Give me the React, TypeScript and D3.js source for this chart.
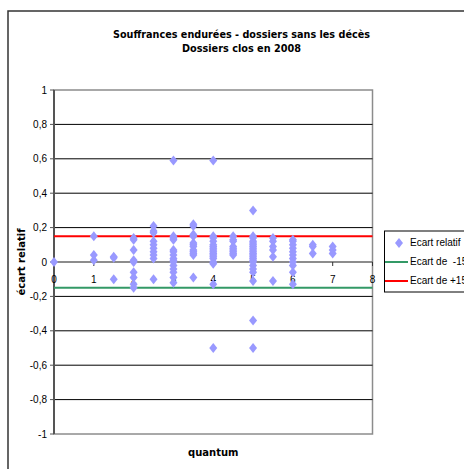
import React from "react";
import * as d3 from "d3";

const title1 = "Souffrances endurées - dossiers sans les décès";
const title2 = "Dossiers clos en 2008";
const xLabel = "quantum";
const yLabel = "écart relatif";
const legendLabels = ["Ecart relatif", "Ecart de  -15%", "Ecart de +15%"];

const yTicks = [1, 0.8, 0.6, 0.4, 0.2, 0, -0.2, -0.4, -0.6, -0.8, -1];
const xTicks = [0, 1, 2, 3, 4, 5, 6, 7, 8];
const lowerBound = -0.15;
const upperBound = 0.15;

// quantum columns and their relative deviations
const quantums = [0, 1, 1.5, 2, 2.5, 3, 3.5, 4, 4.5, 5, 5.5, 6, 6.5, 7];
const ecarts: number[][] = [
  [0],
  [0.15, 0.04, 0.01],
  [0.03, 0.025, -0.1],
  [0.14, 0.13, 0.07, 0.01, 0.0, -0.06, -0.09, -0.13, -0.15],
  [0.21, 0.18, 0.17, 0.12, 0.1, 0.08, 0.06, 0.04, 0.02, -0.1],
  [0.59, 0.15, 0.14, 0.13, 0.07, 0.06, 0.04, 0.02, 0.01, 0.0, -0.02, -0.04, -0.06, -0.09, -0.12],
  [0.22, 0.21, 0.16, 0.15, 0.11, 0.1, 0.09, 0.07, 0.06, 0.05, 0.04, -0.09],
  [0.59, 0.15, 0.14, 0.12, 0.1, 0.09, 0.08, 0.07, 0.06, 0.05, 0.04, 0.03, 0.02, 0.0, -0.01, -0.13, -0.5],
  [0.15, 0.13, 0.12, 0.09, 0.08, 0.07, 0.06, 0.05, 0.04],
  [0.3, 0.15, 0.14, 0.12, 0.11, 0.1, 0.09, 0.08, 0.07, 0.06, 0.05, 0.04, 0.03, 0.02, 0.01, 0.0, -0.02, -0.04, -0.06, -0.11, -0.34, -0.5],
  [0.14, 0.12, 0.09, 0.07, 0.03, -0.11],
  [0.13, 0.12, 0.1, 0.08, 0.06, 0.04, 0.02, 0.0, -0.02, -0.06, -0.13],
  [0.1, 0.09, 0.05],
  [0.09, 0.07, 0.05],
];

const W = 464;
const H = 469;
const plot = { left: 54, right: 372.5, top: 90, bottom: 434 };
const FONT = "'Liberation Sans', Arial, sans-serif";
const MARKER = "#9999ff";
const GREEN = "#339966";
const RED = "#ff0000";

const diamond = (cx: number, cy: number, hw = 4, hh = 5) =>
  `M${cx},${cy - hh}L${cx + hw},${cy}L${cx},${cy + hh}L${cx - hw},${cy}Z`;

export default function App() {
  const x = d3.scaleLinear().domain([0, 8]).range([plot.left, plot.right]);
  const y = d3.scaleLinear().domain([-1, 1]).range([plot.bottom, plot.top]);

  const points: { q: number; v: number }[] = [];
  quantums.forEach((q, i) => ecarts[i].forEach((v) => points.push({ q, v })));

  const line = d3
    .line<[number, number]>()
    .x((d) => x(d[0]))
    .y((d) => y(d[1]));

  return (
    <svg
      width={W}
      height={H}
      style={{ position: "absolute", left: 0, top: 0, background: "#fff" }}
      fontFamily={FONT}
    >
      <rect x={0} y={0} width={W} height={H} fill="#fff" />
      {/* chart area border */}
      <rect x={8} y={11} width={700} height={700} fill="none" stroke="#333" strokeWidth={1.5} />

      {/* title */}
      <text x={241.5} y={38} textAnchor="middle" fontSize={11} fontWeight="bold" fontFamily="Tahoma, 'DejaVu Sans', sans-serif" textLength={257} lengthAdjust="spacingAndGlyphs">
        {title1}
      </text>
      <text x={241.5} y={52} textAnchor="middle" fontSize={11} fontWeight="bold" fontFamily="Tahoma, 'DejaVu Sans', sans-serif" textLength={119} lengthAdjust="spacingAndGlyphs">
        {title2}
      </text>

      {/* plot area */}
      <rect
        x={plot.left}
        y={plot.top}
        width={plot.right - plot.left}
        height={plot.bottom - plot.top}
        fill="#fff"
        stroke="#8c8c8c"
        strokeWidth={1.5}
      />
      {/* gridlines */}
      {yTicks
        .filter((t) => t !== 1 && t !== -1 && t !== 0)
        .map((t) => (
          <line key={t} x1={plot.left} x2={plot.right} y1={y(t)} y2={y(t)} stroke="#000" strokeWidth={1} />
        ))}

      {/* x axis at 0 */}
      <line x1={plot.left} x2={plot.right} y1={y(0)} y2={y(0)} stroke="#666" strokeWidth={1.5} />
      {xTicks.map((t) => (
        <line key={t} x1={x(t)} x2={x(t)} y1={y(0)} y2={y(0) + 4} stroke="#333" strokeWidth={1} />
      ))}
      {/* y axis */}
      <line x1={plot.left} x2={plot.left} y1={plot.top} y2={plot.bottom} stroke="#555" strokeWidth={2} />
      {yTicks.map((t) => (
        <line key={t} x1={plot.left - 4} x2={plot.left} y1={y(t)} y2={y(t)} stroke="#555" strokeWidth={1} />
      ))}

      {/* y tick labels */}
      {yTicks.map((t) => (
        <text key={t} x={47} y={y(t) + 3.5} textAnchor="end" fontSize={10} fill="#000">
          {d3.format("")(t).replace(".", ",").replace("−", "-")}
        </text>
      ))}
      {/* x tick labels */}
      {xTicks.map((t) => (
        <text key={t} x={x(t)} y={283} textAnchor="middle" fontSize={10} fill="#000">
          {t}
        </text>
      ))}

      {/* threshold lines */}
      <path d={line([[0, lowerBound], [8, lowerBound]]) || ""} stroke={GREEN} strokeWidth={2} fill="none" />
      <path d={line([[0, upperBound], [8, upperBound]]) || ""} stroke={RED} strokeWidth={2} fill="none" />

      {/* points */}
      {points.map((p, i) => (
        <path key={i} d={diamond(x(p.q), y(p.v))} fill={MARKER} />
      ))}

      {/* axis titles */}
      <text x={(plot.left + plot.right) / 2} y={456} textAnchor="middle" fontSize={10} fontWeight="bold" fontFamily="Tahoma, 'DejaVu Sans', sans-serif">
        {xLabel}
      </text>
      <text
        transform={`translate(25,${y(0)}) rotate(-90)`}
        textAnchor="middle"
        fontSize={10}
        fontWeight="bold"
        fontFamily="Tahoma, 'DejaVu Sans', sans-serif"
      >
        {yLabel}
      </text>

      {/* legend */}
      <rect x={384.5} y={231} width={200} height={61} fill="#fff" stroke="#000" strokeWidth={1} />
      <path d={diamond(399, 243)} fill={MARKER} />
      <line x1={385} x2={408} y1={262} y2={262} stroke={GREEN} strokeWidth={2} />
      <line x1={385} x2={408} y1={281} y2={281} stroke={RED} strokeWidth={2} />
      {legendLabels.map((l, i) => (
        <text key={l} x={410} y={246 + i * 19} fontSize={10} style={{ whiteSpace: "pre" }}>
          {l}
        </text>
      ))}
    </svg>
  );
}
